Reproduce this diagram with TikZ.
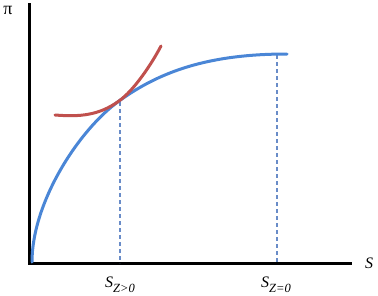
\documentclass[tikz,border=0pt]{standalone}
\usepackage{fontspec}
\setmainfont{Liberation Serif}
\usetikzlibrary{positioning}
\definecolor{curveblue}{RGB}{74,134,214}
\definecolor{curvered}{RGB}{192,80,77}
\definecolor{dashblue}{RGB}{105,140,200}
\newcommand{\slab}[1]{\textit{S}\raisebox{-5pt}{\fontsize{12.5}{14}\selectfont\textit{#1}}}

\begin{document}
\begin{tikzpicture}[x=1pt, y=-1pt, font=\fontsize{16}{18}\selectfont,
  axis/.style={line width=3pt, black},
  guide/.style={dashblue, line width=1.2pt, dash pattern=on 4pt off 3pt},
  curve/.style={line width=3pt, line cap=round},
  every node/.style={inner sep=0pt}]
  \useasboundingbox (0,0) rectangle (378,295);
  % axes
  \coordinate (origin) at (29.5,263);
  \coordinate (ytop) at (29.5,3);
  \coordinate (xend) at (352,263);
  \draw[axis] (ytop) -- (origin) -- (xend);
  \node[font=\fontsize{18}{20}\selectfont] (pilbl) at (8,10) {π};
  \node[right=13pt of xend] (slbl) {\textit{S}};
  % guide lines
  \coordinate (tanpt) at (120,102);
  \coordinate (peak) at (277,55);
  \coordinate (tanfoot) at (tanpt |- origin);
  \coordinate (peakfoot) at (peak |- origin);
  \draw[guide] (tanpt) -- (tanfoot);
  \draw[guide] (peak) -- (peakfoot);
  \node[below=14pt of tanfoot] (szpos) {\slab{Z>0}};
  \node[below=14pt of peakfoot, xshift=-1pt] (szzero) {\slab{Z=0}};
  % curves
  \draw[curve, curveblue] (32,262) .. controls (32,202) and (79,129.8) .. (119,101)
    .. controls (159,72.2) and (207,54) .. (287,54);
  \draw[curve, curvered] (55,115) .. controls (80,117) and (99,115.4) .. (119,101)
    .. controls (134,90.2) and (151,65) .. (161,46);
\end{tikzpicture}
\end{document}
